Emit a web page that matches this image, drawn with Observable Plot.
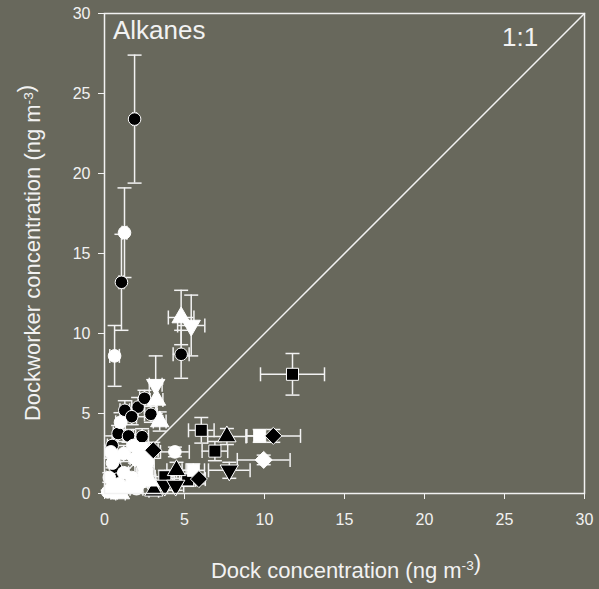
<!DOCTYPE html>
<html><head><meta charset="utf-8">
<script src="https://cdn.jsdelivr.net/npm/d3@7"></script>
<script src="https://cdn.jsdelivr.net/npm/@observablehq/plot@0.6"></script>
<style>
html,body{margin:0;padding:0;background:#68685c;}
svg{display:block;}
</style></head><body><div id="chart"></div>
<script>
// Dock (x) vs dockworker (y) concentrations, ng m-3, with +/- errors
const dockX     = [1.88, 1.25, 1.06, 0.63, 4.79, 5.42, 4.79, 11.75, 9.70, 10.55, 9.95, 6.90, 7.65, 7.80, 6.05, 4.40, 4.50, 3.77, 3.77, 4.45, 3.08, 5.20, 5.55, 3.20, 3.25, 3.45, 3.05, 2.90, 2.10, 1.27, 1.70, 2.50, 2.35, 0.48, 0.85, 1.50, 0.70, 0.80, 5.90,
                   1.00, 0.40, 0.60, 1.20, 1.80, 2.30, 2.40, 2.50, 2.30, 1.70, 1.20, 0.90, 0.40, 0.20, 0.60, 1.10, 1.50, 2.00, 0.30, 2.70, 2.30, 2.60, 2.80, 1.00, 1.90, 0.50];
const workerY   = [23.4, 16.3, 13.2, 8.6, 11.0, 10.5, 8.7, 7.45, 3.6, 3.6, 2.1, 2.65, 3.56, 1.45, 3.95, 2.6, 1.45, 1.05, 0.5, 0.5, 0.17, 0.85, 1.45, 6.8, 5.85, 4.5, 2.7, 4.95, 5.4, 5.2, 4.8, 5.95, 3.55, 3.0, 3.75, 3.6, 1.6, 0.9, 0.9,
                   4.45, 2.6, 2.2, 2.5, 3.0, 2.5, 1.8, 1.2, 0.7, 1.0, 1.3, 0.6, 0.3, 0.1, 0.05, 0.2, 0.4, 0.3, 1.0, 2.0, 2.8, 1.5, 0.8, 0.0, 2.2, 1.9];
const dockErr   = [0.12, 0.15, 0.15, 0.3, 0.8, 0.85, 0.5, 2.0, 0.8, 1.7, 1.65, 0.8, 1.2, 1.3, 0.8, 0.9, 0.6, 0.6, 0.5, 0.5, 0.3, 0.5, 0.7, 0.4, 0.4, 0.4, 0.3, 0.4, 0.4, 0.3, 0.3, 0.3, 0.4, 0.3, 0.3, 0.3, 0.3, 0.3, 0.4,
                   0.3, 0.3, 0.2, 0.4, 0.4, 0.4, 0.5, 0.5, 0.4, 0.3, 0.3, 0.3, 0.2, 0.2, 0.2, 0.3, 0.3, 0.4, 0.2, 0.4, 0.5, 0.5, 0.4, 0.3, 0.3, 0.2];
const workerErr = [4.0, 2.8, 3.0, 1.9, 1.7, 1.9, 1.5, 1.3, 0.4, 0.4, 0.3, 0.6, 0.5, 0.5, 0.8, 0.3, 0.5, 0.4, 0.3, 0.3, 0.3, 0.4, 0.4, 1.8, 1.0, 0.6, 0.5, 0.5, 0.6, 0.6, 0.5, 0.5, 0.5, 0.6, 0.5, 0.4, 0.4, 0.3, 0.3,
                   0.6, 0.4, 0.4, 0.5, 0.5, 0.4, 0.4, 0.3, 0.3, 0.3, 0.3, 0.2, 0.2, 0.1, 0.05, 0.2, 0.2, 0.2, 0.3, 0.3, 0.4, 0.3, 0.3, 0.0, 0.3, 0.3];
const shapes    = ["circle","circle","circle","circle","up","down","circle","square","square","diamond","diamond","square","up","down","square","circle","up","square","down","down","up","square","square","down","up","up","diamond","circle","circle","circle","circle","circle","circle","circle","circle","circle","circle","circle","diamond",
                   "circle","circle","circle","circle","circle","square","circle","circle","circle","circle","circle","circle","circle","circle","circle","circle","circle","circle","circle","circle","square","square","up","up","diamond","circle"];
const fills     = ["black","white","black","white","white","white","black","black","white","black","white","black","black","black","black","white","black","black","black","black","black","black","white","white","white","white","black","black","black","black","black","black","black","black","black","black","black","black","black",
                   "white","white","white","white","white","white","white","white","white","white","white","white","white","white","white","white","white","white","white","white","white","white","white","white","white","white"];
const xTicks = [0, 5, 10, 15, 20, 25, 30];
const yTicks = [0, 5, 10, 15, 20, 25, 30];
const oneToOne = [0, 30];

const data = dockX.map((x, i) => ({x, y: workerY[i], xe: dockErr[i], ye: workerErr[i], shape: shapes[i], fill: fills[i]}));

const sqrt3 = Math.sqrt(3);
const capH = {draw(c, size) { const r = Math.sqrt(size / Math.PI); c.moveTo(-r, 0); c.lineTo(r, 0); }};
const capV = {draw(c, size) { const r = Math.sqrt(size / Math.PI); c.moveTo(0, -r); c.lineTo(0, r); }};
const triDown = {draw(c, size) { const y = -Math.sqrt(size / (sqrt3 * 3)); c.moveTo(0, -y * 2); c.lineTo(-sqrt3 * y, y); c.lineTo(sqrt3 * y, y); c.closePath(); }};
const diamond = {draw(c, size) { const r = Math.sqrt(size / 2); c.moveTo(0, -r); c.lineTo(r, 0); c.lineTo(0, r); c.lineTo(-r, 0); c.closePath(); }};
const symbolFor = {circle: "circle", square: "square", up: "triangle", down: triDown, diamond: diamond};

const line = "#f2f2f2";
const marks = [
  Plot.line(oneToOne, {x: d => d, y: d => d, stroke: line, strokeWidth: 1.5}),
  Plot.ruleX(data, {x: "x", y1: d => Math.max(0, d.y - d.ye), y2: d => d.y + d.ye, stroke: line, strokeWidth: 1.5}),
  Plot.ruleY(data, {y: "y", x1: d => Math.max(0, d.x - d.xe), x2: d => d.x + d.xe, stroke: line, strokeWidth: 1.5}),
  Plot.dot(data.filter(d => d.ye > 0.05), {x: "x", y: d => d.y + d.ye, symbol: capH, r: 7, stroke: line, fill: "none", strokeWidth: 1.5}),
  Plot.dot(data.filter(d => d.ye > 0.05 && d.y - d.ye > 0), {x: "x", y: d => d.y - d.ye, symbol: capH, r: 7, stroke: line, fill: "none", strokeWidth: 1.5}),
  Plot.dot(data, {x: d => d.x + d.xe, y: "y", symbol: capV, r: 7, stroke: line, fill: "none", strokeWidth: 1.5}),
  Plot.dot(data.filter(d => d.x - d.xe > 0), {x: d => d.x - d.xe, y: "y", symbol: capV, r: 7, stroke: line, fill: "none", strokeWidth: 1.5}),
];
for (const s of Object.keys(symbolFor)) {
  marks.push(Plot.dot(data.filter(d => d.shape === s), {x: "x", y: "y", symbol: symbolFor[s], r: s === "circle" ? 6.3 : 6.8, fill: "fill", stroke: "white", strokeWidth: 1}));
}
marks.push(Plot.frame({stroke: line, strokeWidth: 1.5}));

const chart = Plot.plot({
  width: 599, height: 589,
  marginLeft: 104, marginRight: 15, marginTop: 13, marginBottom: 96,
  style: {background: "#68685c", color: "#f2f2f2", fontFamily: "'Liberation Sans', Arial, sans-serif", fontSize: "16px"},
  x: {domain: [0, 30], ticks: xTicks, tickSize: 6, tickPadding: 14, label: null},
  y: {domain: [0, 30], ticks: yTicks, tickSize: 6, tickPadding: 8, label: null},
  marks
});

const svg = d3.select(chart);
const addText = (g, parts, size) => {
  parts.forEach(([t, sup]) => {
    if (sup) {
      g.append("tspan").attr("dy", "-0.55em").attr("font-size", size * 0.62).text(t);
      g.append("tspan").attr("dy", "0.55em").text("");
    } else g.append("tspan").text(t);
  });
};
const xl = svg.append("text").attr("x", 346).attr("y", 578).attr("text-anchor", "middle")
  .attr("font-size", 22).attr("fill", "#f2f2f2");
addText(xl, [["Dock concentration (ng m"], ["-3", true], [")"]], 22);
const yl = svg.append("text").attr("transform", "translate(40,253) rotate(-90)").attr("text-anchor", "middle")
  .attr("font-size", 22).attr("fill", "#f2f2f2");
addText(yl, [["Dockworker concentration (ng m"], ["-3", true], [")"]], 22);
svg.append("text").attr("x", 113).attr("y", 39).attr("text-anchor", "start").attr("font-size", 26).attr("fill", "#f2f2f2").text("Alkanes");
svg.append("text").attr("x", 502).attr("y", 46).attr("text-anchor", "start").attr("font-size", 26).attr("fill", "#f2f2f2").text("1:1");

document.getElementById("chart").append(chart);
</script>
</body></html>
